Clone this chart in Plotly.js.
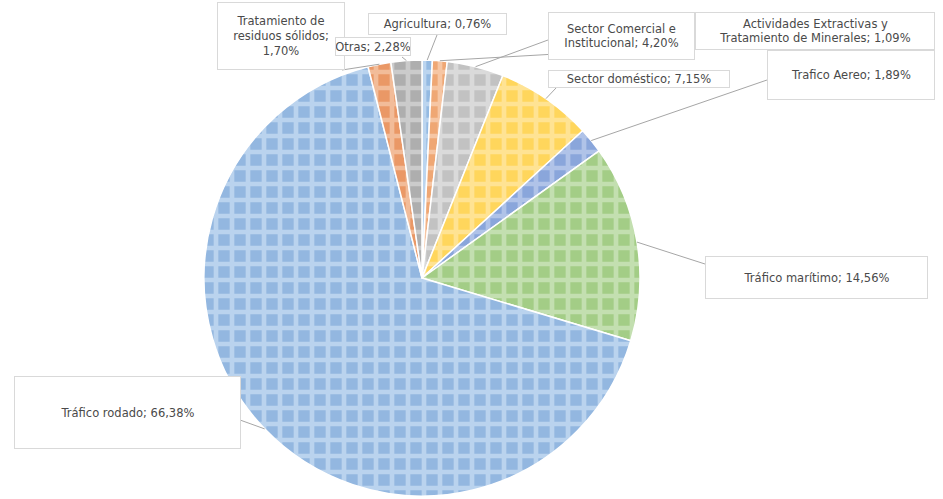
<!DOCTYPE html>
<html>
<head>
<meta charset="utf-8">
<script src="https://cdn.plot.ly/plotly-3.0.1.min.js"></script>
<style>html,body{margin:0;padding:0;background:#fff;}#chart{width:943px;height:499px;}</style>
</head>
<body>
<div id="chart"></div>
<script>
// Data (clockwise from 12 o'clock)
var categories = ["Agricultura", "Actividades Extractivas y Tratamiento de Minerales", "Sector Comercial e Institucional", "Sector doméstico", "Trafico Aereo", "Tráfico marítimo", "Tráfico rodado", "Tratamiento de residuos sólidos", "Otras"];
var values = [0.76, 1.09, 4.20, 7.15, 1.89, 14.56, 66.38, 1.70, 2.28];
var labelTexts = ["Agricultura; 0,76%", "Actividades Extractivas y<br>Tratamiento de Minerales; 1,09%", "Sector Comercial e<br>Institucional; 4,20%", "Sector doméstico; 7,15%", "Trafico Aereo; 1,89%", "Tráfico marítimo; 14,56%", "Tráfico rodado; 66,38%", "Tratamiento de<br>residuos sólidos;<br>1,70%", "Otras; 2,28%"];
var baseColors = ["#94BAE2", "#EFA774", "#C2C2C2", "#FFD65C", "#8AA6DB", "#A3CD86", "#93B7E0", "#EA9866", "#AEAEAE"];
var lightColors = ["#BCD5EF", "#F6C6A4", "#DADADA", "#FFE393", "#B0C3E8", "#C3DFB0", "#BAD3EE", "#F2BC99", "#CBCBCB"];

// Layout geometry (pixels)
var W = 943, H = 499;
var cx = 422, cy = 278, R = 218;
// label boxes: center x, center y, width, height ; leader line end on box
var boxes = [
  {x: 437, y: 24, w: 139, h: 22, lx: 437, ly: 35},
  {x: 815, y: 31, w: 240, h: 38, lx: 695, ly: 46},
  {x: 621, y: 36, w: 147, h: 48, lx: 548, ly: 40},
  {x: 639, y: 79, w: 182, h: 18, lx: 556, ly: 88},
  {x: 851, y: 75, w: 168, h: 50, lx: 767, ly: 80},
  {x: 816, y: 277, w: 223, h: 43, lx: 705, ly: 264},
  {x: 127, y: 412, w: 227, h: 73, lx: 240, ly: 420},
  {x: 281, y: 36, w: 128, h: 68, lx: 342, ly: 70},
  {x: 373, y: 47, w: 76, h: 19, lx: 402, ly: 57}
];
// drawing order of labels (later ones on top)
var drawOrder = [7, 8, 0, 1, 2, 3, 4, 5, 6];

function px(x) { return x / W; }
function py(y) { return 1 - y / H; }

var total = values.reduce(function (a, b) { return a + b; }, 0);
var shapes = [];
var cum = 0;
for (var i = 0; i < values.length; i++) {
  var mid = (cum + values[i] / 2) / total * 2 * Math.PI;
  cum += values[i];
  var ex = cx + R * Math.sin(mid);
  var ey = cy - R * Math.cos(mid);
  shapes.push({
    type: "line", xref: "paper", yref: "paper",
    x0: px(ex), y0: py(ey), x1: px(boxes[i].lx), y1: py(boxes[i].ly),
    line: {color: "#A6A6A6", width: 1}
  });
}

var annotations = drawOrder.map(function (i) {
  var b = boxes[i];
  return {
    xref: "paper", yref: "paper", x: px(b.x), y: py(b.y),
    xanchor: "center", yanchor: "middle",
    text: labelTexts[i], showarrow: false,
    width: b.w - 2, height: b.h - 2, align: "center", valign: "middle",
    bgcolor: "#FFFFFF", bordercolor: "#D9D9D9", borderwidth: 1, borderpad: 0,
    font: {family: "DejaVu Sans, sans-serif", size: 11.5, color: "#4A4A4A"}
  };
});

var trace = {
  type: "pie",
  labels: categories,
  values: values,
  sort: false,
  direction: "clockwise",
  rotation: 0,
  textinfo: "none",
  hoverinfo: "label+percent",
  domain: {x: [px(cx) - 0.26, px(cx) + 0.26], y: [py(cy) - R / H, py(cy) + R / H]},
  marker: {
    colors: baseColors,
    line: {color: "#FFFFFF", width: 1.5},
    pattern: {shape: "+", fgcolor: lightColors, bgcolor: baseColors, size: 16, solidity: 0.5}
  },
  showlegend: false
};

var layout = {
  width: W, height: H,
  margin: {l: 0, r: 0, t: 0, b: 0},
  paper_bgcolor: "#FFFFFF",
  showlegend: false,
  shapes: shapes,
  annotations: annotations
};

Plotly.newPlot("chart", [trace], layout, {displayModeBar: false, staticPlot: true});
</script>
</body>
</html>
